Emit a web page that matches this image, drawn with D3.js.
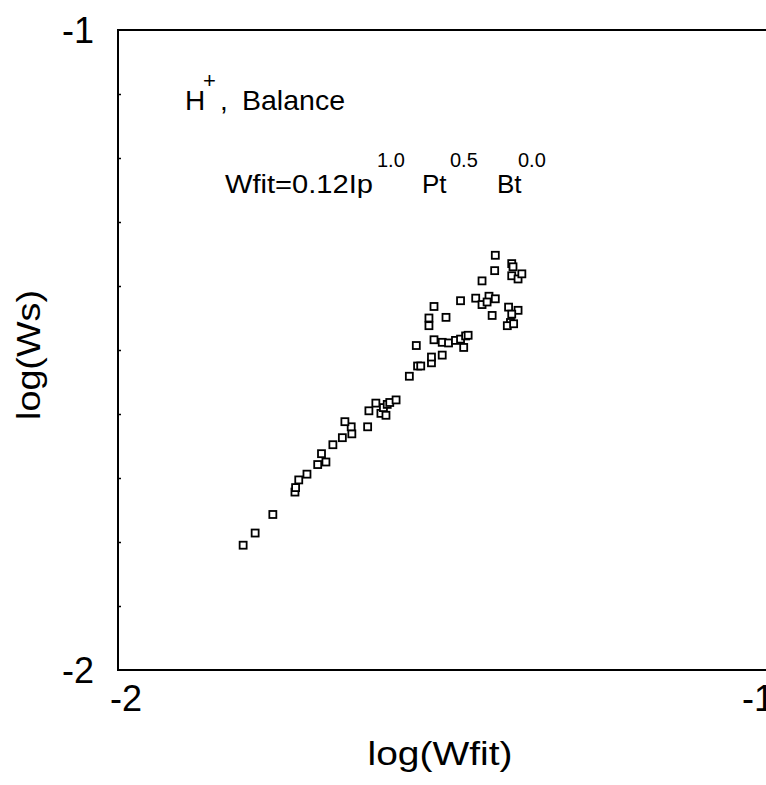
<!DOCTYPE html>
<html>
<head>
<meta charset="utf-8">
<script src="https://cdn.jsdelivr.net/npm/d3@7"></script>
<style>
  html, body { margin: 0; padding: 0; background: #fff; }
  svg { display: block; font-family: "Liberation Sans", Arial, sans-serif; }
  .frame { stroke: #000; stroke-width: 2; fill: none; }
  .pt { fill: #fff; stroke: #000; stroke-width: 1.8; }
</style>
</head>
<body>
<svg id="chart" width="766" height="785"></svg>
<script>
// log(Wfit) and log(Ws)
const logWfit = [
  -1.802, -1.783, -1.755, -1.720, -1.719, -1.714, -1.701, -1.684, -1.671, -1.678,
  -1.660, -1.645, -1.630, -1.631, -1.641, -1.605, -1.603, -1.592, -1.584, -1.576,
  -1.580, -1.574, -1.570, -1.560, -1.539, -1.526, -1.521, -1.504, -1.504, -1.487,
  -1.528, -1.500, -1.487, -1.477, -1.466, -1.458, -1.453, -1.450, -1.446, -1.508,
  -1.508, -1.481, -1.500, -1.458, -1.434, -1.424, -1.413, -1.403, -1.408, -1.416,
  -1.424, -1.404, -1.403, -1.377, -1.375, -1.377, -1.367, -1.361, -1.382, -1.367,
  -1.377, -1.379, -1.384, -1.374
];
const logWs = [
  -1.805, -1.786, -1.757, -1.722, -1.715, -1.703, -1.694, -1.679, -1.675, -1.662,
  -1.648, -1.637, -1.631, -1.620, -1.612, -1.620, -1.595, -1.583, -1.599, -1.602,
  -1.590, -1.585, -1.582, -1.578, -1.541, -1.525, -1.525, -1.520, -1.511, -1.508,
  -1.493, -1.484, -1.488, -1.489, -1.485, -1.483, -1.496, -1.478, -1.477, -1.462,
  -1.450, -1.449, -1.432, -1.423, -1.419, -1.429, -1.416, -1.420, -1.446, -1.425,
  -1.392, -1.376, -1.352, -1.365, -1.370, -1.384, -1.389, -1.381, -1.433, -1.438,
  -1.444, -1.457, -1.462, -1.459
];
const xTickLabels = [-2, -1];
const yTickLabels = [-2, -1];
const yMinorTicks = [-1.9, -1.8, -1.7, -1.6, -1.5, -1.4, -1.3, -1.2, -1.1];

const svg = d3.select('#chart');
const W = 766;

const x = d3.scaleLinear().domain([-2, -1]).range([118, 750]);
const y = d3.scaleLinear().domain([-2, -1]).range([670, 30]);

// small inward ticks on the left axis
svg.append('g')
  .attr('transform', `translate(${x(-2)},0)`)
  .call(d3.axisRight(y).tickValues(yMinorTicks).tickSize(3).tickFormat(''))
  .call(g => g.select('.domain').remove())
  .call(g => g.selectAll('line').attr('stroke', '#000').attr('stroke-width', 1.5));

// frame (right side is cut off in the scan)
svg.append('path').attr('class', 'frame')
  .attr('d', `M${W},${y(-1)}H${x(-2)}V${y(-2)}H${W}`);

// tick labels
svg.append('g').selectAll('text')
  .data(yTickLabels).join('text')
  .attr('x', 94).attr('y', d => y(d) + 13)
  .attr('text-anchor', 'end').attr('font-size', 36)
  .text(d => d);

svg.append('g').selectAll('text')
  .data(xTickLabels).join('text')
  .attr('x', d => x(d) - 8).attr('y', y(-2) + 41)
  .attr('font-size', 36)
  .text(d => d);

// axis titles
svg.append('text')
  .attr('transform', `translate(40,${(y(-1) + y(-2)) / 2 + 5}) rotate(-90)`)
  .attr('text-anchor', 'middle').attr('font-size', 34)
  .attr('textLength', 130).attr('lengthAdjust', 'spacingAndGlyphs')
  .text('log(Ws)');

svg.append('text')
  .attr('x', 440).attr('y', 765)
  .attr('text-anchor', 'middle').attr('font-size', 34)
  .attr('textLength', 145).attr('lengthAdjust', 'spacingAndGlyphs')
  .text('log(Wfit)');

// annotations
const note = svg.append('g');
note.append('text').attr('x', 185).attr('y', 110).attr('font-size', 28).text('H');
note.append('text').attr('x', 203).attr('y', 88).attr('font-size', 22).text('+');
note.append('text').attr('x', 220).attr('y', 110).attr('font-size', 28).text(',');
note.append('text').attr('x', 242).attr('y', 110).attr('font-size', 28)
  .attr('textLength', 103).attr('lengthAdjust', 'spacingAndGlyphs').text('Balance');

note.append('text').attr('x', 225).attr('y', 193).attr('font-size', 26)
  .attr('textLength', 148).attr('lengthAdjust', 'spacingAndGlyphs').text('Wfit=0.12Ip');
note.append('text').attr('x', 377).attr('y', 167).attr('font-size', 20).text('1.0');
note.append('text').attr('x', 422).attr('y', 193).attr('font-size', 26).text('Pt');
note.append('text').attr('x', 450).attr('y', 167).attr('font-size', 20).text('0.5');
note.append('text').attr('x', 497).attr('y', 193).attr('font-size', 26).text('Bt');
note.append('text').attr('x', 518).attr('y', 167).attr('font-size', 20).text('0.0');

// data points: open squares
const s = 7;
svg.append('g').selectAll('rect')
  .data(d3.zip(logWfit, logWs)).join('rect')
  .attr('class', 'pt')
  .attr('x', d => x(d[0]) - s / 2).attr('y', d => y(d[1]) - s / 2)
  .attr('width', s).attr('height', s);
</script>
</body>
</html>
